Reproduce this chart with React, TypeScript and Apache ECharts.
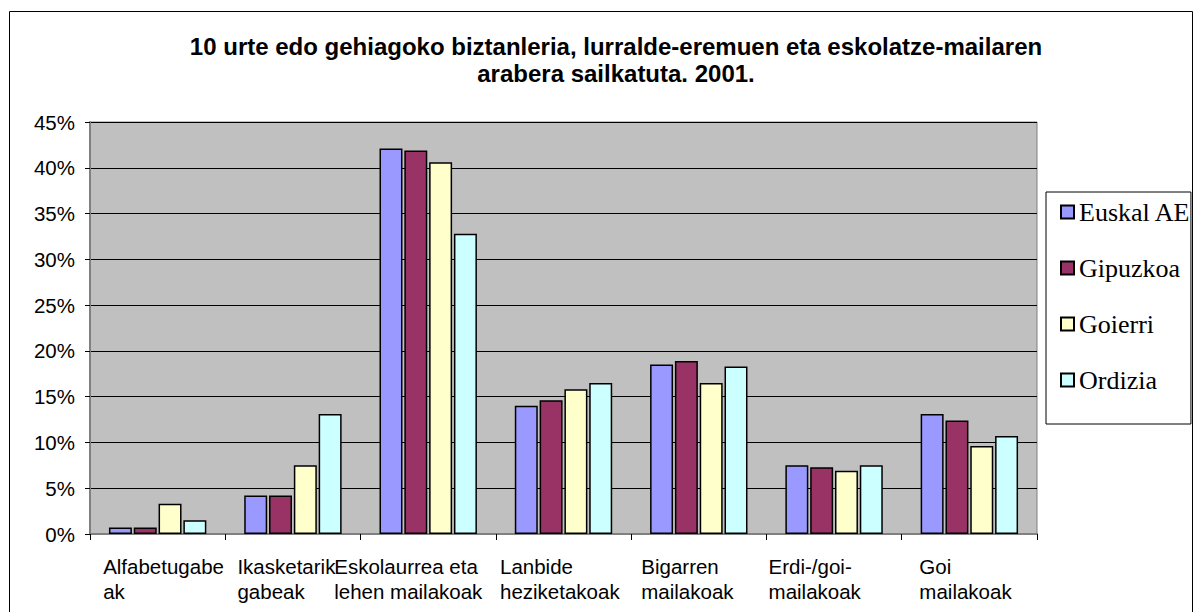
import React, { useEffect, useRef } from "react";
import * as echarts from "echarts";

const titleText =
  "10 urte edo gehiagoko biztanleria, lurralde-eremuen eta eskolatze-mailaren\narabera sailkatuta. 2001.";

const categories = [
  "Alfabetugabe\nak",
  "Ikasketarik\ngabeak",
  "Eskolaurrea eta\nlehen mailakoak",
  "Lanbide\nheziketakoak",
  "Bigarren\nmailakoak",
  "Erdi-/goi-\nmailakoak",
  "Goi\nmailakoak",
];

const seriesNames = ["Euskal AE", "Gipuzkoa", "Goierri", "Ordizia"];

const euskalAE = [0.7, 4.2, 42.1, 14.0, 18.5, 7.5, 13.1];
const gipuzkoa = [0.7, 4.2, 41.9, 14.6, 18.9, 7.3, 12.4];
const goierri = [3.3, 7.5, 40.6, 15.8, 16.5, 6.9, 9.6];
const ordizia = [1.5, 13.1, 32.8, 16.5, 18.3, 7.5, 10.7];

const seriesValues = [euskalAE, gipuzkoa, goierri, ordizia];
const seriesColors = ["#9999FF", "#993366", "#FFFFCC", "#CCFFFF"];

const yTicks = [0, 5, 10, 15, 20, 25, 30, 35, 40, 45];

// label block widths (label lines are left aligned inside a centred box)
const labelBoxWidths = [109, 111, 188, 127, 115, 131, 100];

const SANS = "'Liberation Sans', Arial, sans-serif";
const SERIF = "'Liberation Serif', 'Times New Roman', serif";

export default function App() {
  const ref = useRef<HTMLDivElement>(null);

  useEffect(() => {
    document.body.style.margin = "0";
    const chart = echarts.init(ref.current!, undefined, { renderer: "svg" });

    const rich: Record<string, any> = {};
    labelBoxWidths.forEach((w, i) => {
      rich["c" + i] = {
        width: w,
        align: "left",
        fontSize: 20.5,
        lineHeight: 25,
        fontFamily: SANS,
        color: "#000",
      };
    });

    chart.setOption({
      animation: false,
      backgroundColor: "#fff",
      title: {
        text: titleText,
        left: 611,
        top: 28,
        textAlign: "center",
        textStyle: {
          fontFamily: SANS,
          fontSize: 24,
          fontWeight: "bold",
          color: "#000",
          lineHeight: 27,
        },
      },
      legend: {
        data: seriesNames,
        orient: "vertical",
        left: 1046,
        top: 192,
        padding: [7, 0, 31, 14],
        itemWidth: 13,
        itemHeight: 13,
        itemGap: 30,
        icon: "rect",
        backgroundColor: "#fff",
        borderColor: "#000",
        borderWidth: 1,
        textStyle: {
          fontFamily: SERIF,
          fontSize: 26,
          lineHeight: 26,
          color: "#000",
        },
      },
      grid: {
        left: 90,
        right: 158,
        top: 122,
        bottom: 78,
        show: true,
        backgroundColor: "#C0C0C0",
        borderColor: "#808080",
        borderWidth: 1,
      },
      xAxis: {
        type: "category",
        data: categories,
        axisLine: { show: true, lineStyle: { color: "#808080", width: 2 } },
        axisTick: {
          show: true,
          interval: 0,
          length: 6,
          lineStyle: { color: "#000" },
        },
        axisLabel: {
          interval: 0,
          margin: 20,
          align: "center",
          formatter: (value: string, idx: number) =>
            value
              .split("\n")
              .map((l) => `{c${idx}|${l}}`)
              .join("\n"),
          rich,
        },
      },
      yAxis: {
        type: "value",
        min: yTicks[0],
        max: yTicks[yTicks.length - 1],
        interval: 5,
        axisLine: { show: true, lineStyle: { color: "#808080", width: 2 } },
        axisTick: { show: true, length: 5, lineStyle: { color: "#000" } },
        axisLabel: {
          formatter: "{value}%",
          fontFamily: SANS,
          fontSize: 20.5,
          color: "#000",
          margin: 15,
        },
        splitLine: { show: true, lineStyle: { color: "#000", width: 1 } },
      },
      series: seriesNames.map((name, i) => ({
        name,
        type: "bar",
        data: seriesValues[i],
        barGap: "8%",
        barCategoryGap: "28%",
        itemStyle: {
          color: seriesColors[i],
          borderColor: "#000",
          borderWidth: 1.5,
        },
      })),
      graphic: [
        {
          type: "rect",
          shape: { x: 9.5, y: 11.5, width: 1183, height: 620 },
          style: { fill: "none", stroke: "#000", lineWidth: 1 },
          silent: true,
        },
      ],
    });

    return () => chart.dispose();
  }, []);

  return (
    <div
      ref={ref}
      style={{ position: "absolute", left: 0, top: 0, width: 1195, height: 612 }}
    />
  );
}
